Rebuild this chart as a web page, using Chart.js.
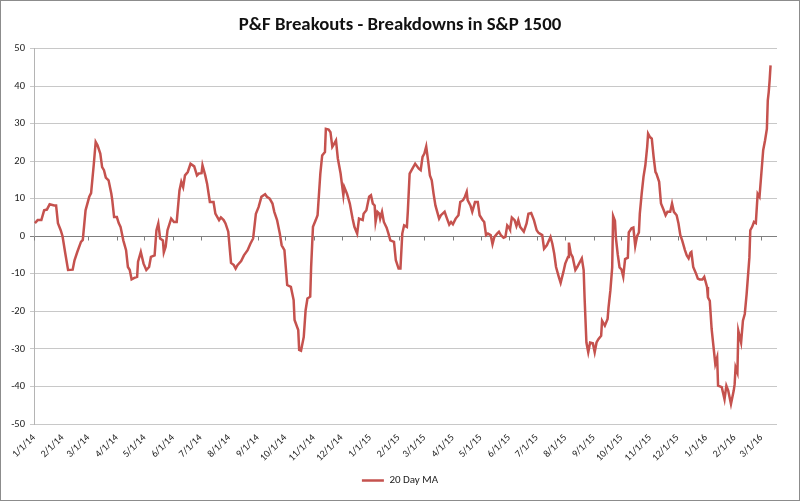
<!DOCTYPE html>
<html><head><meta charset="utf-8">
<script src="https://cdn.jsdelivr.net/npm/chart.js@4"></script>
<style>html,body{margin:0;padding:0;background:#fff}#wrap{width:800px;height:501px;position:relative}</style>
</head><body><div id="wrap"><canvas id="c"></canvas></div>
<script>
const seriesName = "20 Day MA";
const chartTitle = "P&F Breakouts - Breakdowns in S&P 1500";
const dates = ["1/2/14","1/5/14","1/9/14","1/12/14","1/15/14","1/18/14","1/23/14","1/25/14","1/27/14","1/30/14",
"2/1/14","2/4/14","2/7/14","2/12/14","2/14/14","2/17/14","2/21/14","2/23/14","2/26/14",
"3/2/14","3/4/14","3/7/14","3/9/14","3/11/14","3/14/14","3/16/14","3/18/14","3/20/14","3/23/14","3/26/14","3/27/14","3/29/14",
"4/1/14","4/3/14","4/5/14","4/8/14","4/11/14","4/13/14","4/15/14","4/17/14","4/20/14","4/23/14","4/24/14","4/27/14","4/30/14",
"5/3/14","5/6/14","5/8/14","5/12/14","5/14/14","5/16/14","5/18/14","5/21/14","5/22/14","5/24/14","5/26/14","5/30/14",
"6/2/14","6/5/14","6/8/14","6/10/14","6/12/14","6/14/14","6/17/14","6/20/14","6/24/14","6/27/14","6/29/14",
"7/2/14","7/3/14","7/6/14","7/8/14","7/11/14","7/15/14","7/17/14","7/21/14","7/23/14","7/26/14","7/28/14","7/31/14",
"8/3/14","8/6/14","8/8/14","8/10/14","8/14/14","8/17/14","8/21/14","8/24/14","8/27/14","8/30/14",
"9/2/14","9/5/14","9/9/14","9/11/14","9/14/14","9/17/14","9/19/14","9/22/14","9/25/14","9/27/14","9/30/14",
"10/3/14","10/7/14","10/10/14","10/11/14","10/15/14","10/16/14","10/18/14","10/21/14","10/23/14","10/25/14","10/28/14","10/29/14","10/31/14",
"11/3/14","11/5/14","11/8/14","11/10/14","11/13/14","11/14/14","11/17/14","11/19/14","11/21/14","11/23/14","11/25/14","11/27/14","11/30/14",
"12/3/14","12/4/14","12/7/14","12/10/14","12/13/14","12/15/14","12/18/14","12/20/14","12/24/14","12/25/14","12/28/14","12/31/14",
"1/2/15","1/4/15","1/6/15","1/7/15","1/9/15","1/11/15","1/12/15","1/14/15","1/16/15","1/19/15","1/21/15","1/23/15","1/27/15","1/29/15",
"2/1/15","2/3/15","2/5/15","2/7/15","2/10/15","2/11/15","2/13/15","2/16/15","2/19/15","2/23/15","2/25/15","2/27/15",
"3/1/15","3/3/15","3/5/15","3/7/15","3/9/15","3/11/15","3/13/15","3/17/15","3/19/15","3/23/15","3/25/15","3/28/15","3/30/15",
"4/1/15","4/4/15","4/7/15","4/9/15","4/12/15","4/14/15","4/16/15","4/17/15","4/20/15","4/22/15","4/25/15","4/28/15","4/30/15",
"5/3/15","5/5/15","5/7/15","5/9/15","5/12/15","5/14/15","5/16/15","5/19/15","5/21/15","5/23/15","5/26/15","5/28/15","5/30/15",
"6/1/15","6/2/15","6/4/15","6/7/15","6/9/15","6/11/15","6/13/15","6/17/15","6/20/15","6/22/15","6/25/15","6/28/15",
"7/1/15","7/3/15","7/7/15","7/9/15","7/12/15","7/16/15","7/18/15","7/20/15","7/22/15","7/25/15","7/27/15","7/30/15",
"8/1/15","8/4/15","8/5/15","8/7/15","8/9/15","8/12/15","8/14/15","8/17/15","8/19/15","8/21/15","8/22/15","8/24/15","8/26/15","8/28/15","8/31/15",
"9/2/15","9/4/15","9/6/15","9/9/15","9/10/15","9/13/15","9/16/15","9/17/15","9/19/15","9/21/15","9/22/15","9/24/15","9/25/15","9/27/15","9/29/15",
"10/1/15","10/3/15","10/5/15","10/8/15","10/9/15","10/12/15","10/14/15","10/16/15","10/18/15","10/20/15","10/21/15","10/23/15","10/25/15","10/27/15","10/29/15","10/30/15",
"11/1/15","11/3/15","11/5/15","11/7/15","11/8/15","11/11/15","11/13/15","11/16/15","11/18/15","11/20/15","11/23/15","11/25/15","11/27/15","11/30/15",
"12/2/15","12/4/15","12/6/15","12/9/15","12/11/15","12/13/15","12/15/15","12/16/15","12/18/15","12/21/15","12/23/15","12/25/15","12/28/15","12/30/15",
"1/2/16","1/3/16","1/5/16","1/7/16","1/11/16","1/13/16","1/14/16","1/18/16","1/21/16","1/23/16","1/25/16","1/28/16","1/31/16",
"2/1/16","2/2/16","2/4/16","2/5/16","2/8/16","2/10/16","2/12/16","2/14/16","2/17/16","2/18/16","2/20/16","2/22/16","2/24/16","2/26/16","2/28/16",
"3/1/16","3/3/16","3/5/16","3/7/16","3/8/16","3/9/16","3/10/16","3/11/16"];
const values = [3.5,4.3,4.3,6.9,7.1,8.5,8.2,8.2,3.5,1.6,
0,-4.6,-9,-8.9,-6.4,-4.2,-1.5,-1,6.9,
10.5,11.5,19.3,25.1,24.2,22,18.4,17.6,15.6,14.9,11.3,9.6,5.1,
5.1,3.5,2.5,-1.1,-3.7,-8.2,-9,-11.5,-11.1,-10.8,-6.8,-4.2,-7.3,
-9,-8.2,-5.5,-5.1,1.6,3.4,-0.6,-1.1,-4.3,-2.8,1.6,4.7,
3.8,3.8,12.2,14.5,13.1,16.2,17.1,19.3,18.6,16.2,16.7,
16.8,18.9,16.2,14,9.1,9.1,6,4.3,5,4.3,3.4,1.2,
-7.1,-7.7,-8.6,-7.7,-6.6,-5.1,-3.7,-2,-0.6,6,
7.8,10.5,11.2,10.5,10,8.7,6.5,4.3,0.7,-2.4,-3.7,
-13,-13.5,-17,-22.3,-25,-30.3,-30.5,-26.8,-19.7,-16.6,-16.1,-8.2,2.5,
4.3,5.6,16.7,21.5,22.4,28.6,28.4,27.7,23.8,24.6,25.5,20.7,16.7,
10.9,13.1,11.3,8.7,4.7,2.5,0.7,4.7,4.3,6,6.9,10.5,
10.9,8.7,8.2,3.8,6.5,6,4.7,6.5,3.8,2.3,0.7,-1.1,-1.5,-6.4,
-8.6,-8.6,0.7,2.9,2.5,6.5,16.7,18,19.3,18,17.6,21.1,
22,23.9,20.2,16.2,14.9,11.3,8.2,4.7,5.6,6.5,5.1,3.1,3.8,
3.2,4.7,5.6,9.1,9.6,10.5,11.8,9.6,8.2,6.5,9.1,9.1,5.6,
4.4,3.8,0.3,0.7,0.3,-2.1,-0.2,0.7,1.2,0.3,-0.4,-0.2,2.9,
2.3,1.8,5,4.3,2.7,4.3,2.5,1.2,3.4,6,6.2,4.3,
1.6,0.9,0.3,-3.3,-2.4,-0.2,-2,-4.6,-8.2,-10.8,-12.4,-9.5,
-7.3,-5.5,-1.7,-4.6,-5.5,-9,-8.2,-6.8,-5.9,-9,-16.3,-28.3,-30.9,-28.3,-28.5,
-30.9,-28.3,-27.4,-26.5,-22.5,-23.8,-22,-19,-14.5,-8.3,5.4,4.1,-0.4,-4.8,-8.3,
-8.8,-10.8,-6.1,-5.7,1,2.1,2.3,-2.6,0,1,6,11.3,15.8,18.9,23.8,27.3,
26.4,26,21.1,17.1,16.7,14.5,8.7,6.9,5.6,6.5,6.5,8.7,6.5,5.6,
3.4,0.3,-1.1,-3.7,-5.1,-5.9,-4.4,-4.2,-8.2,-9.9,-11.3,-11.5,-11.5,-10.8,
-13.5,-16.3,-17.2,-24.7,-34,-32.3,-39.8,-40.2,-43.4,-39.8,-41.1,-44.7,-41.1,
-39.4,-34.9,-36.3,-25.2,-28.3,-22.5,-20.7,-15.4,-5.7,1.6,2.5,3.8,3.5,11.3,10.5,
16.7,22.9,25.5,28.6,36.2,38.4,41.5,45.5];
const tickLabels = ["1/1/14","2/1/14","3/1/14","4/1/14","5/1/14","6/1/14","7/1/14","8/1/14","9/1/14","10/1/14","11/1/14","12/1/14",
"1/1/15","2/1/15","3/1/15","4/1/15","5/1/15","6/1/15","7/1/15","8/1/15","9/1/15","10/1/15","11/1/15","12/1/15",
"1/1/16","2/1/16","3/1/16"];
const axisStart = "1/1/14";
const axisEnd = "3/18/16";
const yMin = -50, yMax = 50, yStep = 10;

function dayNum(s){ const p = s.split('/').map(Number); return Date.UTC(2000 + p[2], p[0] - 1, p[1]) / 86400000; }
const base = dayNum(axisStart);
const off = s => dayNum(s) - base;
const tickOffsets = tickLabels.map(off);
const labelFor = {}; tickLabels.forEach(l => { labelFor[off(l)] = l; });

const FONT = "Carlito, Lato, 'Open Sans', sans-serif";

const frame = {
  id: 'frame',
  beforeDraw(chart){ const c = chart.ctx; c.save(); c.fillStyle = '#fff'; c.fillRect(0, 0, chart.width, chart.height); c.restore(); },
  afterDraw(chart){ const c = chart.ctx; c.save(); c.strokeStyle = '#8c8c8c'; c.lineWidth = 1; c.strokeRect(0.5, 0.5, chart.width - 1, chart.height - 1); c.restore(); }
};
const zeroTicks = {
  id: 'zeroTicks',
  beforeDatasetsDraw(chart){
    const xs = chart.scales.x, ys = chart.scales.y, c = chart.ctx;
    const y0 = Math.round(ys.getPixelForValue(0)) + 0.5;
    c.save(); c.strokeStyle = '#7f7f7f'; c.lineWidth = 1; c.beginPath();
    tickOffsets.forEach(v => { const px = Math.round(xs.getPixelForValue(v)) + 0.5; c.moveTo(px, y0); c.lineTo(px, y0 + 4); });
    c.stroke(); c.restore();
  }
};

new Chart(document.getElementById('c'), {
  type: 'line',
  data: { datasets: [{
    label: seriesName,
    data: dates.map((d, i) => ({ x: off(d), y: values[i] })),
    borderColor: '#C5524E', backgroundColor: '#C5524E', borderWidth: 2.5,
    pointRadius: 0, pointHoverRadius: 0, tension: 0, fill: false
  }]},
  options: {
    responsive: true, maintainAspectRatio: false, animation: false,
    layout: { padding: { left: 0, right: 0, top: 0, bottom: 5 } },
    plugins: {
      title: { display: true, text: chartTitle, color: '#111', font: { family: FONT, size: 18.8, weight: 'bold' }, padding: { top: 13.7, bottom: 12.2 } },
      legend: { position: 'bottom', labels: { usePointStyle: true, pointStyle: 'line', pointStyleWidth: 22, boxHeight: 11, padding: 9, color: '#222', font: { family: FONT, size: 11 } } },
      tooltip: { enabled: false }
    },
    scales: {
      x: {
        type: 'linear', min: off(axisStart), max: off(axisEnd),
        grid: { display: false, drawTicks: false }, border: { display: false },
        afterBuildTicks: s => { s.ticks = tickOffsets.map(v => ({ value: v })); },
        afterFit: s => { s.height = 42; },
        ticks: { autoSkip: false, minRotation: 45, maxRotation: 45, padding: 8, color: '#222', font: { family: FONT, size: 10 }, callback: v => labelFor[v] || '' }
      },
      y: {
        min: yMin, max: yMax,
        afterFit: s => { s.width = 34; },
        grid: { color: c => (c.tick && c.tick.value === 0) ? '#7f7f7f' : '#c8c8c8', lineWidth: 1, tickLength: 4, drawTicks: true },
        border: { display: true, color: '#b4b4b4', width: 1 },
        ticks: { stepSize: yStep, padding: 5, color: '#222', font: { family: FONT, size: 10.5 } }
      },
      yRightSpace: {
        position: 'right', display: true,
        grid: { display: false, drawTicks: false }, border: { display: false },
        ticks: { display: false },
        afterFit: s => { s.width = 23; }
      }
    }
  },
  plugins: [frame, zeroTicks]
});
</script>
</body></html>
